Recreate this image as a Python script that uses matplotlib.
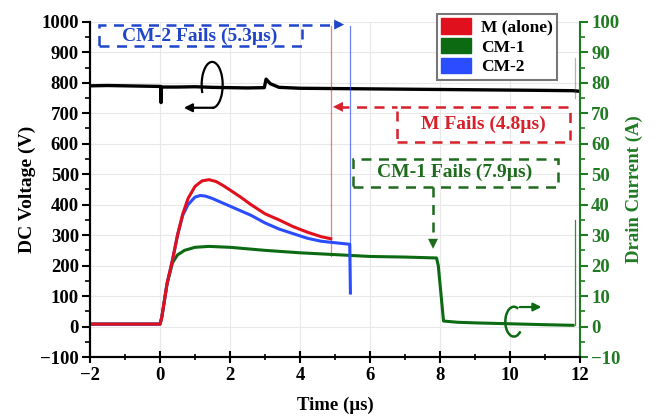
import matplotlib
matplotlib.use("Agg")
import matplotlib.pyplot as plt
from matplotlib.patches import Rectangle, Arc, Patch
from matplotlib.ticker import MultipleLocator

plt.rcParams['font.family'] = ['Liberation Serif', 'DejaVu Serif']
plt.rcParams['font.weight'] = 'bold'

RED = '#e0101c'
GREEN = '#0b6a12'
BLUE = '#2a4dff'
AX_GREEN = '#1f7a22'

# DC voltage (V), left axis
black_t = [-2, -1.5, -1, -0.5, 0.0, 0.02, 0.03, 0.04, 0.5, 1.0, 1.5, 2.0, 2.5,
           2.98, 3.03, 3.15, 3.4, 4.0, 5.0, 6.0, 7.0, 8.0, 9.0, 10.0, 11.0, 11.8, 12.0]
black_v = [790, 791, 790, 789, 788, 788, 735, 786, 786, 787, 785, 784, 783,
           784, 812, 797, 785, 782, 781, 780, 779, 778, 777, 776, 775, 774, 772]

# drain currents (A), right axis
red_t = [-2, -1, 0, 0.05, 0.2, 0.36, 0.5, 0.65, 0.8, 1.0, 1.2, 1.4, 1.6, 1.8,
         2.0, 2.3, 2.6, 3.0, 3.4, 3.8, 4.2, 4.6, 4.88]
red_i = [0.8, 0.8, 0.8, 3, 14, 22, 30, 37, 42, 46, 47.8, 48.2, 47.6, 46.3,
         44.8, 42.5, 40, 37, 35, 32.8, 31, 29.5, 28.8]
red_fail_t = [4.88, 4.88]
red_fail_i = [23, 98.5]

blue_t = [-2, -1, 0, 0.05, 0.2, 0.36, 0.5, 0.65, 0.8, 1.0, 1.15, 1.3, 1.5, 1.8,
          2.0, 2.3, 2.6, 3.0, 3.4, 3.8, 4.2, 4.6, 5.0, 5.42, 5.44]
blue_i = [0.8, 0.8, 0.8, 3, 14, 22, 30, 36.5, 40, 42.5, 43, 42.8, 42, 40.5,
          39.5, 38, 36.5, 34, 32, 30.5, 29, 28, 27.5, 27, 11]
blue_fail_t = [5.44, 5.44]
blue_fail_i = [11, 98.5]

green_t = [-2, -1, 0, 0.05, 0.2, 0.36, 0.5, 0.7, 1.0, 1.4, 2.0, 3.0, 4.0, 5.0,
           6.0, 7.0, 7.9, 7.95, 8.1, 8.5, 9.0, 10.0, 11.0, 11.8]
green_i = [0.8, 0.8, 0.8, 3, 14, 21, 23.5, 25, 26, 26.3, 26, 25, 24.2, 23.6,
           23, 22.8, 22.5, 20, 1.8, 1.4, 1.2, 0.9, 0.6, 0.4]
green_end_t = [11.85, 11.85]
green_end_i = [0.4, 35]
green_top_i = [75, 88]

legend_labels = ['M (alone)', 'CM-1', 'CM-2']

fig = plt.figure(figsize=(6.58, 4.2), dpi=100)
ax = fig.add_axes([0.1368, 0.15, 0.7447, 0.798])
ax2 = ax.twinx()

ax.plot(black_t, black_v, color='black', lw=2.4)

ax2.plot(red_fail_t, red_fail_i, color=RED, lw=0.9, alpha=0.55)
ax2.plot(blue_fail_t, blue_fail_i, color=BLUE, lw=0.9, alpha=0.7)
ax2.plot(green_end_t, green_end_i, color=GREEN, lw=0.9, alpha=0.8)
ax2.plot(green_end_t, green_top_i, color=GREEN, lw=0.9, alpha=0.4)
ax2.plot(green_t, green_i, color=GREEN, lw=2.2)
ax2.plot(blue_t, blue_i, color=BLUE, lw=2.2)
ax2.plot(red_t, red_i, color=RED, lw=2.2)

ax.set_xlim(-2, 12)
ax.set_ylim(-100, 1000)
ax2.set_ylim(-10, 100)

ax.xaxis.set_major_locator(MultipleLocator(2))
ax.xaxis.set_minor_locator(MultipleLocator(1))
ax.yaxis.set_major_locator(MultipleLocator(100))
ax.yaxis.set_minor_locator(MultipleLocator(50))
ax2.yaxis.set_major_locator(MultipleLocator(10))
ax2.yaxis.set_minor_locator(MultipleLocator(5))

ax.grid(True, which='major', color='#e8e8e8', lw=0.8)
ax.set_axisbelow(True)

for a in (ax, ax2):
    a.spines['top'].set_visible(False)
    a.spines['left'].set_linewidth(1.5)
    a.spines['bottom'].set_linewidth(1.5)
ax2.spines['right'].set_color(AX_GREEN)
ax2.spines['right'].set_linewidth(1.5)
ax.spines['right'].set_visible(False)

ax.tick_params(axis='x', which='major', direction='inout', length=8, width=1.5, labelsize=13.5)
ax.tick_params(axis='x', which='minor', direction='inout', length=5, width=1.2)
ax.tick_params(axis='y', which='major', direction='out', length=6, width=1.5, labelsize=13.5, pad=2)
ax.tick_params(axis='y', which='minor', direction='out', length=3.5, width=1.2)
ax2.tick_params(axis='y', which='major', direction='out', length=6, width=1.5,
                labelsize=13.5, colors=AX_GREEN, labelcolor=AX_GREEN, pad=2)
ax2.tick_params(axis='y', which='minor', direction='out', length=3.5, width=1.2, colors=AX_GREEN)

ax.set_xlabel('Time (\u00b5s)', fontsize=13.5, fontweight='bold', labelpad=9)
ax.set_ylabel('DC Voltage (V)', fontsize=14, fontweight='bold', labelpad=3)
ax2.set_ylabel('Drain Current (A)', fontsize=13.5, fontweight='bold', color=AX_GREEN, labelpad=4)

dash = (0, (4, 3))

# CM-2 fails
ax.add_patch(Rectangle((-1.74, 921), 5.8, 70, fill=False, ec='#1f45c8', lw=1.8, ls=dash, zorder=5))
ax.plot([4.06, 5.1], [991, 991], color='#1f45c8', lw=1.8, ls=dash, zorder=5)
ax.annotate('', xy=(5.34, 991), xytext=(5.0, 991),
            arrowprops=dict(arrowstyle='-|>', color='#1f45c8', lw=0, mutation_scale=18), zorder=6)
ax.text(1.14, 953, 'CM-2 Fails (5.3\u00b5s)', color='#1f45c8', fontsize=14,
        fontweight='bold', ha='center', va='center', zorder=6)

# M fails
ax.add_patch(Rectangle((6.77, 607), 4.94, 114, fill=False, ec='#d8202a', lw=1.8, ls=dash, zorder=5))
ax.plot([5.1, 6.77], [721, 721], color='#d8202a', lw=1.8, ls=dash, zorder=5)
ax.annotate('', xy=(4.86, 721), xytext=(5.25, 721),
            arrowprops=dict(arrowstyle='-|>', color='#d8202a', lw=0, mutation_scale=18), zorder=6)
ax.text(9.23, 662, 'M Fails (4.8\u00b5s)', color='#d8202a', fontsize=14,
        fontweight='bold', ha='center', va='center', zorder=6)

# CM-1 fails
ax.add_patch(Rectangle((5.51, 459), 5.86, 92, fill=False, ec='#1e6b1e', lw=1.8, ls=dash, zorder=5))
ax.plot([7.8, 7.8], [459, 280], color='#1e6b1e', lw=1.8, ls=dash, zorder=5)
ax.annotate('', xy=(7.8, 246), xytext=(7.8, 290),
            arrowprops=dict(arrowstyle='-|>', color='#1e6b1e', lw=0, mutation_scale=18), zorder=6)
ax.text(8.43, 505, 'CM-1 Fails (7.9\u00b5s)', color='#1e6b1e', fontsize=14,
        fontweight='bold', ha='center', va='center', zorder=6)

# axis markers (loops with arrows); Arc angles are given in stretched data space
ax.add_patch(Arc((1.49, 793), 0.6, 151, theta1=-90, theta2=269.4, color='black', lw=1.6, zorder=6))
ax.annotate('', xy=(0.6, 718), xytext=(1.6, 718),
            arrowprops=dict(arrowstyle='-|>', color='black', lw=1.6, mutation_scale=12), zorder=6)
ax2.add_patch(Arc((10.11, 1.6), 0.49, 9.8, theta1=88.35, theta2=273.4, color=GREEN, lw=1.8, zorder=6))
ax2.annotate('', xy=(10.98, 6.4), xytext=(10.2, 6.4),
             arrowprops=dict(arrowstyle='-|>', color=GREEN, lw=1.6, mutation_scale=12), zorder=6)

handles = [Patch(facecolor=RED, edgecolor=RED), Patch(facecolor=GREEN, edgecolor=GREEN),
           Patch(facecolor=BLUE, edgecolor=BLUE)]
leg = fig.legend(handles, legend_labels, loc='upper right', bbox_to_anchor=(0.86, 0.988),
                 prop={'family': 'Liberation Serif', 'weight': 'bold', 'size': 12.5},
                 fancybox=False, edgecolor='#777777', framealpha=1,
                 handlelength=1.7, handleheight=1.0, labelspacing=0.12,
                 borderpad=0.25, handletextpad=0.6)
leg.get_frame().set_linewidth(1.5)

fig.savefig('out.png', dpi=100)
